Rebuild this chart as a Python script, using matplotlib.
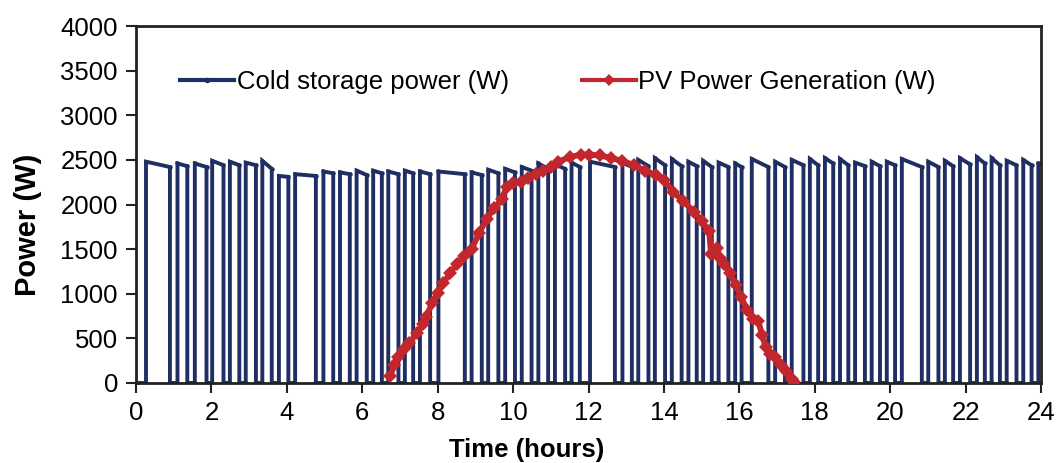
import matplotlib
matplotlib.use("Agg")
import matplotlib.pyplot as plt
import numpy as np

plt.rcParams['font.family'] = ['Liberation Sans', 'DejaVu Sans']

# ---- Cold storage compressor: OFF intervals (hours)
off_start = [0.00, 0.90, 1.36, 1.87, 2.32, 2.74, 3.18, 3.60, 4.04, 4.77, 5.23, 5.67,
             6.12, 6.52, 6.96, 7.35, 7.80, 8.72, 9.17, 9.61, 10.05, 10.49, 10.93,
             11.38, 11.77, 12.70, 13.15, 13.59, 14.03, 14.47, 14.87, 15.27, 15.71,
             16.06, 16.77, 17.21, 17.70, 18.09, 18.49, 18.89, 19.33, 19.73, 20.13,
             20.84, 21.28, 21.67, 22.12, 22.51, 22.91, 23.35, 23.75]
off_end = [0.265, 1.10, 1.56, 2.02, 2.49, 2.91, 3.35, 3.79, 4.22, 4.97, 5.41, 5.85,
           6.29, 6.69, 7.13, 7.53, 8.02, 8.90, 9.34, 9.79, 10.23, 10.67, 11.11,
           11.55, 12.04, 12.90, 13.32, 13.76, 14.21, 14.65, 15.04, 15.45, 15.89,
           16.33, 16.95, 17.39, 17.87, 18.27, 18.67, 19.07, 19.51, 19.91, 20.31,
           21.01, 21.45, 21.85, 22.30, 22.69, 23.09, 23.53, 23.93]
# power at start / end of each ON period (W)
on_start_w = [2480, 2460, 2460, 2490, 2480, 2470, 2490, 2320, 2340, 2370, 2360, 2380,
              2380, 2370, 2380, 2370, 2370, 2360, 2390, 2400, 2420, 2460, 2450, 2470,
              2480, 2470, 2500, 2520, 2510, 2480, 2490, 2470, 2460, 2510, 2480, 2500,
              2510, 2520, 2510, 2470, 2480, 2480, 2510, 2480, 2490, 2520, 2530, 2520,
              2490, 2500, 2460]
on_end_w = [2420, 2430, 2420, 2440, 2440, 2440, 2400, 2310, 2320, 2350, 2340, 2330,
            2350, 2340, 2350, 2340, 2340, 2330, 2350, 2360, 2380, 2400, 2400, 2420,
            2420, 2420, 2430, 2440, 2430, 2430, 2420, 2420, 2420, 2420, 2420, 2440,
            2440, 2460, 2440, 2430, 2430, 2440, 2420, 2420, 2430, 2450, 2460, 2440,
            2440, 2440, 2460]

# ---- PV generation (hours, W)
pv_t = [6.74, 6.85, 6.95, 7.10, 7.25, 7.45, 7.60, 7.70, 7.85, 8.00, 8.15, 8.33, 8.50,
        8.70, 8.90, 9.10, 9.30, 9.50, 9.70, 9.83, 10.00, 10.20, 10.40, 10.60, 10.80,
        11.00, 11.20, 11.50, 11.80, 12.00, 12.30, 12.60, 12.90, 13.20, 13.50, 13.80,
        14.00, 14.25, 14.50, 14.80, 15.00, 15.20, 15.25, 15.40, 15.50, 15.60, 15.75,
        15.90, 16.05, 16.20, 16.35, 16.50, 16.60, 16.70, 16.80, 16.95, 17.10, 17.25,
        17.40, 17.45]
pv_w = [80, 200, 290, 380, 450, 560, 660, 740, 900, 1010, 1120, 1230, 1330,
        1420, 1500, 1680, 1840, 1960, 2060, 2200, 2240, 2250, 2300, 2340, 2380,
        2420, 2480, 2530, 2560, 2560, 2550, 2520, 2490, 2440, 2380, 2330,
        2270, 2140, 2040, 1920, 1820, 1700, 1440, 1510, 1400, 1330, 1230,
        1100, 965, 820, 720, 700, 540, 400, 320, 290, 200, 130,
        40, 10]

x_ticks = list(range(0, 25, 2))
y_ticks = list(range(0, 4001, 500))

# build cold storage trace
cx, cy = [], []
n = len(off_start)
for i in range(n):
    cx += [off_start[i], off_end[i]]
    cy += [0, 0]
    t_on = off_end[i]
    t_off = off_start[i + 1] if i + 1 < n else 24.0
    cx += [t_on, t_off]
    cy += [on_start_w[i], on_end_w[i]]
    if i + 1 < n:
        cx += [t_off]
        cy += [0]

navy = '#1F2F63'
red = '#C1272D'

fig = plt.figure(figsize=(10.57, 4.63), dpi=100)
ax = fig.add_axes([136/1057, 1 - 383/463, 905/1057, 357/463])

ax.plot(cx, cy, color=navy, lw=2.8, marker='o', ms=3.2, mew=0, label='Cold storage power (W)',
        solid_joinstyle='miter', zorder=2)
ax.plot(pv_t, pv_w, color=red, lw=4.2, marker='D', ms=7.5, mew=0, label='PV Power Generation (W)',
        zorder=3)

ax.set_xlim(0, 24)
ax.set_ylim(0, 4000)
ax.set_xticks(x_ticks)
ax.set_yticks(y_ticks)
ax.tick_params(axis='both', labelsize=18.5, direction='out', length=7, width=1.5,
               color='#222222', pad=6)
for s in ax.spines.values():
    s.set_linewidth(2)
    s.set_color('#222222')

ax.set_xlabel('Time (hours)', fontsize=18.5, fontweight='bold', labelpad=8)
ax.xaxis.set_label_coords((527 - 136) / 905, -(450 - 383) / 357)
ax.xaxis.label.set_verticalalignment('center')
ax.set_ylabel('Power (W)', fontsize=21, fontweight='bold')
ax.yaxis.set_label_coords(-(136 - 28) / 905, (383 - 225) / 357)
ax.yaxis.label.set_verticalalignment('center')

leg = ax.legend(loc='center left', bbox_to_anchor=(44/905, (383-82)/357), ncol=2,
                frameon=False, fontsize=18.5, handlelength=2.1, handletextpad=0.1,
                columnspacing=2.85, borderpad=0, borderaxespad=0)
for h in leg.legend_handles:
    h.set_linewidth(3)
leg.legend_handles[0].set_markersize(4)
leg.legend_handles[1].set_markersize(6)

fig.savefig('out.png', dpi=100)
